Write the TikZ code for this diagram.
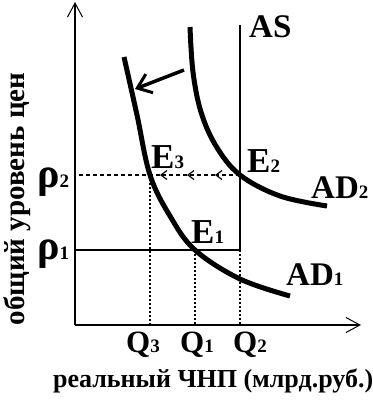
\documentclass[tikz,border=0pt]{standalone}
\usepackage{fontspec}
\setmainfont{Liberation Serif}
\usetikzlibrary{arrows.meta}
\begin{document}
\begin{tikzpicture}[x=1pt,y=-1pt,
  axis/.style={line width=2pt,-{Straight Barb[length=14pt,width=15pt,line width=1pt]}},
  curve/.style={line width=5pt},
  asline/.style={line width=1.5pt},
  pline/.style={line width=2pt},
  dotline/.style={line width=2pt,dash pattern=on 2pt off 2pt},
  dashline/.style={line width=1.5pt,dash pattern=on 4pt off 3pt},
  dasharrow/.style={dashline,-{Straight Barb[length=6pt,width=9pt,line width=1.2pt]}},
  shiftarrow/.style={line width=3.5pt,-{Straight Barb[length=13pt,width=20pt,line width=3pt]}},
  lbl/.style={inner sep=0pt,anchor=base west,font=\bfseries\fontsize{35}{35}\selectfont},
  biglbl/.style={inner sep=0pt,anchor=base west,font=\bfseries\fontsize{33}{33}\selectfont},
  qlbl/.style={inner sep=0pt,anchor=base west,font=\bfseries\fontsize{31}{31}\selectfont},
  rholbl/.style={inner sep=0pt,anchor=base west,font=\bfseries\fontsize{42}{42}\selectfont},
]
\newcommand{\subd}[1]{{\fontsize{19}{19}\selectfont #1}}
\useasboundingbox (0,0) rectangle (373,400);
% key points
\coordinate (O) at (75,325);
\coordinate (Ytop) at (75,2);
\coordinate (Xend) at (361,325);
\coordinate (AStop) at (240,25);
\coordinate (E2) at (240,175);
\coordinate (E3) at (150,175);
\coordinate (E1) at (195,250);
\coordinate (Q2top) at (240,250);
\coordinate (P2) at (75,175);
\coordinate (P1) at (75,250);
\coordinate (Q3) at (150,325);
\coordinate (Q1) at (195,325);
\coordinate (Q2) at (240,325);
\coordinate (a1) at (215,175);
\coordinate (a2) at (187,175);
\coordinate (a3) at (160,175);
\coordinate (sA) at (184,70);
\coordinate (sB) at (135,89);
% axes
\draw[axis] (O) -- (Ytop);
\draw[axis] (O) -- (Xend);
% AS and price levels
\draw[asline] (AStop) -- (Q2top);
\draw[pline] (P1) -- (Q2top);
\draw[dasharrow] (E2) -- (a1);
\draw[dasharrow] (a1) -- (a2);
\draw[dasharrow] (a2) -- (a3);
\draw[dashline] (a3) -- (P2);
% dotted verticals
\draw[dotline] (E3) -- (Q3);
\draw[dotline] (E1) -- (Q1);
\draw[dotline] (Q2top) -- (Q2);
% curves
\draw[curve] plot[smooth,tension=0.6] coordinates {(124,57) (137,115) (E3) (170,216) (E1) (240,279) (290,296)};
\draw[curve] plot[smooth,tension=0.6] coordinates {(190,27) (193,72) (201,112) (216,146) (E2) (280,196) (327,206)};
% shift arrow
\draw[shiftarrow] (sA) -- (sB);
% labels
\node[biglbl] (las) at (249,37) {AS};
\node[lbl] (le2) at (247,172) {E\subd{2}};
\node[lbl] (le3) at (151,168) {E\subd{3}};
\node[lbl] (le1) at (191,243) {E\subd{1}};
\node[biglbl] (lad2) at (311,198) {AD\subd{2}};
\node[biglbl] (lad1) at (286,285) {AD\subd{1}};
\node[qlbl] (lq3) at (126,352) {Q\subd{3}};
\node[qlbl] (lq1) at (180,352) {Q\subd{1}};
\node[qlbl] (lq2) at (233,352) {Q\subd{2}};
\node[rholbl] (lp2) at (37,187) {ρ\subd{2}};
\node[rholbl] (lp1) at (37,259) {ρ\subd{1}};
\node[inner sep=0pt,rotate=90,font=\bfseries\fontsize{29}{29}\selectfont] (ylab) at (17,199) {общий уровень цен};
\node[inner sep=0pt,anchor=base west,font=\bfseries\fontsize{26}{26}\selectfont] (xlab) at (53,387) {реальный ЧНП (млрд.руб.)};
\end{tikzpicture}
\end{document}
